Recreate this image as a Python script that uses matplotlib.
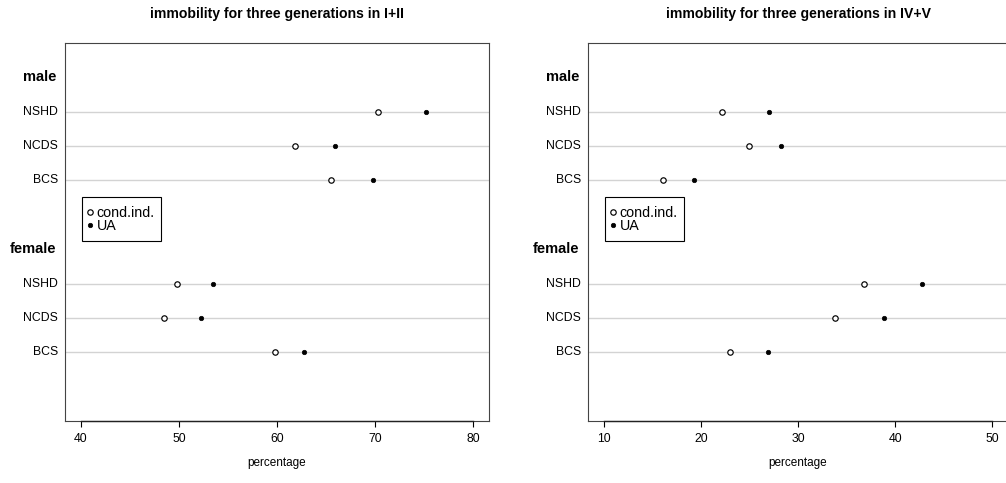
import matplotlib as mpl
mpl.use("Agg")
import matplotlib.pyplot as plt
from matplotlib.patches import Rectangle

plt.rcParams["font.family"] = ["Liberation Sans", "DejaVu Sans"]

cohorts = ["NSHD", "NCDS", "BCS"]
groups = ["male", "female"]

# panel I+II
left_male_cond = [70.3, 61.8, 65.5]
left_male_ua = [75.2, 65.9, 69.8]
left_female_cond = [49.8, 48.5, 59.8]
left_female_ua = [53.5, 52.3, 62.7]

# panel IV+V
right_male_cond = [22.2, 25.0, 16.1]
right_male_ua = [27.0, 28.2, 19.3]
right_female_cond = [36.8, 33.8, 23.0]
right_female_ua = [42.8, 38.8, 26.9]

left_ticks = [40, 50, 60, 70, 80]
right_ticks = [10, 20, 30, 40, 50]

W, H = 1006, 483
fig = plt.figure(figsize=(W / 100, H / 100), dpi=100)
fig.patch.set_facecolor("white")

# row layout of the dotchart (R style, ylim 0..11)
male_rows = [9, 8, 7]
female_rows = [4, 3, 2]
group_rows = [10, 5]

open_kw = dict(ls="none", marker="o", mfc="white", mec="black", mew=0.85, ms=3.9, zorder=3)
full_kw = dict(ls="none", marker="o", mfc="black", mec="black", mew=0.5, ms=3.2, zorder=3)


def panel(rect, title, mc, mu, fc, fu, ticks):
    ax = fig.add_axes(rect)
    aw = rect[2] * W
    ah = rect[3] * H
    lo, hi = ticks[0], ticks[-1]
    pad = 0.04 * (hi - lo)
    ax.set_xlim(lo - pad, hi + pad)
    ax.set_ylim(0, 11)
    for y in male_rows + female_rows:
        ax.axhline(y, color="#d3d3d3", lw=1.0, zorder=1)
    ax.plot(mc, male_rows, label="cond.ind.", **open_kw)
    ax.plot(mu, male_rows, label="UA", **full_kw)
    ax.plot(fc, female_rows, **open_kw)
    ax.plot(fu, female_rows, **full_kw)

    ax.set_yticks([])
    for rows in (male_rows, female_rows):
        for lab, y in zip(cohorts, rows):
            ax.annotate(lab, xy=(0, y), xycoords=("axes fraction", "data"),
                        xytext=(-7, 0), textcoords="offset pixels",
                        ha="right", va="center", fontsize=8.8)
    for lab, y in zip(groups, group_rows):
        ax.annotate(lab, xy=(0, y), xycoords=("axes fraction", "data"),
                    xytext=(-9, 0), textcoords="offset pixels",
                    ha="right", va="center", fontsize=10.5, fontweight="bold")

    ax.set_xticks(ticks)
    ax.set_xticklabels([str(t) for t in ticks])
    ax.tick_params(axis="x", direction="out", length=4.3, width=0.8,
                   pad=4, labelsize=8.8)
    for s in ax.spines.values():
        s.set_linewidth(0.8)
        s.set_color("#444444")
    # R-style axis line between first and last tick
    ax.plot([lo, hi], [0, 0], color="#222222", lw=1.0, clip_on=False, zorder=5)

    ax.annotate(title, xy=(0.5, 1), xycoords="axes fraction",
                xytext=(0, 29), textcoords="offset pixels",
                ha="center", va="center", fontsize=10.1, fontweight="bold")
    ax.annotate("percentage", xy=(0.5, 0), xycoords="axes fraction",
                xytext=(0, -42), textcoords="offset pixels",
                ha="center", va="center", fontsize=8.5)

    # legend box (R legend), entries inside
    bx0, bx1 = 17 / aw, 96 / aw
    by1, by0 = (421 - 197) / ah, (421 - 241) / ah
    ax.add_patch(Rectangle((bx0, by0), bx1 - bx0, by1 - by0,
                           transform=ax.transAxes, fill=False,
                           edgecolor="black", lw=0.8, zorder=6))
    ax.legend(loc="upper left", bbox_to_anchor=(21 / aw, (421 - 206) / ah),
              borderaxespad=0, borderpad=0, frameon=False, fontsize=10.3,
              handlelength=0.55, handletextpad=0.2, labelspacing=-0.06)
    return ax


panel([65 / W, 62 / H, 424 / W, 378 / H],
      "immobility for three generations in I+II",
      left_male_cond, left_male_ua, left_female_cond, left_female_ua,
      left_ticks)
panel([588 / W, 62 / H, 420 / W, 378 / H],
      "immobility for three generations in IV+V",
      right_male_cond, right_male_ua, right_female_cond, right_female_ua,
      right_ticks)

fig.savefig("out.png", dpi=100)
